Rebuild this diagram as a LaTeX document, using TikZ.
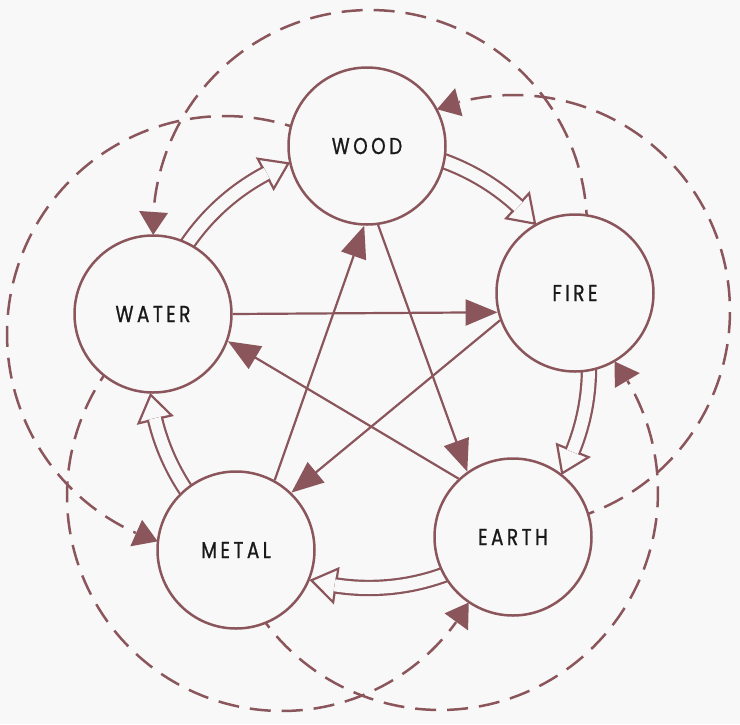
\documentclass[tikz,border=0pt]{standalone}
\usepackage{fontspec}
\setmainfont{Poppins}
\newfontfamily\elemfont{Poppins}[FakeStretch=0.8,FakeBold=0.9]
\usetikzlibrary{arrows.meta}
\pgfdeclarelayer{bg}
\pgfdeclarelayer{conn}
\pgfsetlayers{bg,conn,main}
\definecolor{br}{RGB}{138,86,91}
\definecolor{paper}{RGB}{248,248,248}
\newcommand{\lsp}{\kern 3.5pt}
% dashed arc: centre x, centre y, radius, start angle, end angle (decreasing)
\newcommand{\dasharc}[5]{%
  \pgfmathsetmacro\dbase{(#5)+23/(#3)*57.2958}%
  \draw[dashline] plot[variable=\t,domain=0:1,samples=90]
    ({#1+#3*cos((#4)+((\dbase)-(#4))*\t)},{#2+#3*sin((#4)+((\dbase)-(#4))*\t)});
  \fill[br] ({#1+(#3+14.5)*cos(\dbase)},{#2+(#3+14.5)*sin(\dbase)})
    -- ({#1+#3*cos(#5)},{#2+#3*sin(#5)})
    -- ({#1+(#3-14.5)*cos(\dbase)},{#2+(#3-14.5)*sin(\dbase)}) -- cycle;}
% hollow arrow on circle about O (369,368), radius 220: start angle, tip angle (increasing)
\newcommand{\hollowarrow}[2]{%
  \pgfmathsetmacro\hbase{(#2)-6.5}%
  \filldraw[hollowhead] ({369+237*cos(\hbase)},{368+237*sin(\hbase)})
    -- ({369+220*cos(#2)},{368+220*sin(#2)})
    -- ({369+203*cos(\hbase)},{368+203*sin(\hbase)}) -- cycle;
  \draw[hollowshaft] plot[variable=\t,domain=#1:\hbase+0.3,samples=40]
    ({369+220*cos(\t)},{368+220*sin(\t)});}
\begin{document}
\begin{tikzpicture}[x=1pt,y=-1pt,
  elem/.style={circle, draw=br, line width=2.5pt, fill=paper, minimum size=157pt,
    inner sep=0pt, font=\elemfont\fontsize{23}{23}\selectfont, text=black!90},
  starline/.style={draw=br, line width=2.2pt, -{Triangle[length=32pt,width=26pt]}},
  dashline/.style={draw=br, line width=2.5pt, dash pattern=on 21pt off 11pt},
  hollowshaft/.style={draw=br, line width=2.2pt, double=paper, double distance=12pt},
  hollowhead/.style={draw=br, line width=2.2pt, fill=paper, line join=miter},
]
\useasboundingbox (0,0) rectangle (740,724);
\begin{pgfonlayer}{bg}
  \fill[paper] (0,0) rectangle (740,724);
\end{pgfonlayer}
\coordinate (O) at (369,368);
\node[elem] (WOOD)  at (367,146) {W\lsp O\lsp O\lsp D};
\node[elem] (FIRE)  at (575,293) {F\lsp I\lsp R\lsp E};
\node[elem] (EARTH) at (513,537) {E\lsp A\lsp R\lsp T\lsp H};
\node[elem] (METAL) at (236,550) {M\lsp E\lsp T\lsp A\lsp L};
\node[elem] (WATER) at (153,314) {W\lsp A\lsp T\lsp E\lsp R};
\begin{pgfonlayer}{conn}
  % controlling cycle (star)
  \draw[starline] (WATER.0) -- (FIRE.194.7);
  \draw[starline] (WOOD.-82.7) -- (EARTH.125.3);
  \draw[starline] (METAL.61.6) -- (WOOD.-92.9);
  \draw[starline] (FIRE.200.9) -- (METAL.46.5);
  \draw[starline] (EARTH.133.5) -- (WATER.-20.7);
  % generating cycle (hollow arrows)
  \hollowarrow{211}{248.5}
  \hollowarrow{-73.5}{-41}
  \hollowarrow{-3}{28.6}
  \hollowarrow{66.6}{105.2}
  \hollowarrow{143.2}{173}
  % dashed outer arcs
  \dasharc{370}{227}{217}{1}{-182.1}
  \dasharc{225}{334}{218}{-68.5}{-252}
  \dasharc{282}{496}{215}{218}{29.7}
  \dasharc{440}{492}{218}{147}{-36.8}
  \dasharc{514}{311}{216}{73.8}{-110.9}
\end{pgfonlayer}
\end{tikzpicture}
\end{document}
